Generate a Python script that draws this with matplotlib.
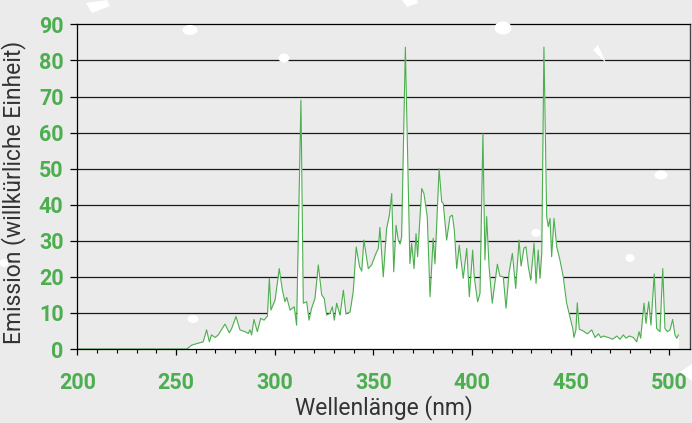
import matplotlib
matplotlib.use("Agg")
import matplotlib.pyplot as plt
from matplotlib.patches import Ellipse, Polygon
import numpy as np

wavelength = [200, 250, 255.5, 258, 263.8, 265.5, 266.9, 268, 269.8, 271.4, 274.8, 277, 278.2,
              280.4, 282.4, 285, 286.6, 287.5, 288.3, 289.5, 291.2, 292.9, 294.6, 296.3, 297.3,
              298.1, 300.2, 302.3, 303.9, 305.2, 306.1, 307.8, 309.9, 311.1, 313.3, 314.5, 316.2,
              317.4, 318.7, 320.4, 322.1, 323.8, 325.1, 326.3, 328, 329.2, 330.2, 331.4, 333.1,
              334.8, 336.1, 338.2, 339.8, 341.3, 343, 344.1, 345.2, 347.4, 349.1, 351.3, 352.5,
              353.3, 355, 356.7, 358.1, 359.3, 360.3, 361.5, 362.6, 363.5, 364.3, 366.2, 368.5,
              369.4, 370.6, 371.6, 372.4, 374.5, 375.6, 377.3, 378.7, 380.3, 381.2, 383.3, 384.6,
              385.4, 387.1, 388.8, 390, 391, 392.2, 393.5, 395.5, 397.3, 398.6, 400.3, 401.1,
              402.8, 404, 405.5, 406.5, 407.4, 408.6, 410.2, 412.8, 414.1, 415.8, 417.2, 418.7,
              420.4, 422.1, 423.8, 424.8, 426.3, 427.3, 428.5, 429.7, 431.4, 432.4, 433.5, 434.4,
              435.3, 436.4, 437.8, 438.6, 439.5, 440.3, 441.5, 442.9, 444.5, 446.2, 447.9, 449.6,
              451, 451.6, 452.6, 453.3, 454.3, 456.3, 458.4, 460.6, 462.3, 464, 465.2, 466.5,
              469, 471.2, 473.3, 474.9, 476.6, 478, 479.6, 481.7, 483.4, 484.6, 485.4, 487.1,
              488.1, 489.5, 490.6, 492.3, 493.5, 495.2, 496.6, 497.7, 498.9, 500.3, 501.6, 502.8,
              503.7, 504.5]
emission = [0, 0, 0, 1.1, 2.0, 5.3, 2.0, 3.9, 3.2, 3.9, 6.9, 4.5, 5.7,
            9.0, 5.3, 4.8, 4.3, 5.3, 3.9, 8.2, 4.8, 8.5, 8.0, 9.1, 19.6,
            10.8, 13.6, 22.3, 16.3, 13.1, 14.3, 10.8, 11.7, 6.6, 69.0, 12.7, 13.1,
            8.0, 11.3, 14.0, 23.3, 15.0, 14.0, 9.4, 9.9, 11.7, 8.0, 12.7, 9.4,
            16.3, 9.7, 10.3, 16.0, 28.3, 22.8, 21.6, 30.2, 22.3, 23.3, 26.5, 27.9,
            33.7, 20.0, 33.4, 37.1, 43.1, 21.4, 34.3, 30.2, 29.1, 31.1, 83.7, 23.7,
            29.3, 22.3, 32.0, 25.6, 44.5, 43.1, 36.7, 14.5, 30.7, 23.6, 50.0, 40.8,
            40.4, 30.2, 36.7, 37.1, 33.0, 22.3, 28.8, 19.6, 27.9, 14.5, 27.4, 20.0,
            13.1, 15.4, 59.7, 24.7, 36.7, 22.8, 12.7, 23.5, 20.2, 20.0, 11.3, 21.0,
            26.5, 16.8, 30.2, 23.0, 28.0, 28.3, 22.8, 19.1, 29.3, 18.2, 27.4, 19.6,
            26.5, 83.7, 36.7, 33.9, 36.2, 25.6, 36.2, 28.3, 24.7, 20.0, 12.7, 8.8,
            5.7, 3.2, 5.3, 12.8, 5.5, 5.0, 4.2, 5.3, 3.2, 4.2, 3.2, 3.6,
            3.2, 2.7, 3.6, 2.7, 3.9, 3.0, 3.6, 3.2, 2.0, 4.8, 3.0, 12.7,
            7.1, 13.1, 6.6, 20.8, 5.7, 4.8, 22.3, 5.7, 4.8, 5.3, 8.2, 3.9,
            3.0, 3.9]

x_ticks = [200, 250, 300, 350, 400, 450, 500]
y_ticks = [0, 10, 20, 30, 40, 50, 60, 70, 80, 90]

BG = "#ebebeb"
GREEN = "#4cae4f"
FONT = ["Roboto", "DejaVu Sans"]

W, H = 692, 423
fig = plt.figure(figsize=(W / 100, H / 100), dpi=100, facecolor=BG)
ax = fig.add_axes([77.3 / W, 1 - 349 / H, (690 - 77.3) / W, (349 - 24.4) / H])
ax.set_facecolor("none")

ax.fill_between(wavelength, emission, 0, color="white", lw=0, zorder=2)
ax.plot(wavelength, emission, color=GREEN, lw=0.8, zorder=3)

ax.set_xlim(200, 510.4)
ax.set_ylim(0, 90)

for v in y_ticks[1:-1]:
    ax.axhline(v, color="#1a1a1a", lw=0.9, zorder=1)

ax.set_xticks(x_ticks)
ax.set_xticks(np.arange(210, 510, 10), minor=True)
ax.set_yticks(y_ticks)
ax.tick_params(axis="x", which="major", length=4.5, width=0.9, color="black", pad=12,
               labelsize=15.5, labelcolor=GREEN)
ax.tick_params(axis="x", which="minor", length=3, width=0.8, color="black")
ax.tick_params(axis="y", which="major", length=5, width=0.9, color="black", pad=5,
               labelsize=15.5, labelcolor=GREEN)
for lab in ax.get_xticklabels() + ax.get_yticklabels():
    lab.set_fontfamily(FONT)
    lab.set_fontweight("bold")

for s in ["left", "top", "bottom"]:
    ax.spines[s].set_color("black")
    ax.spines[s].set_linewidth(0.9)
ax.spines["right"].set_color("#444444")
ax.spines["right"].set_linewidth(1.0)
for s in ax.spines.values():
    s.set_zorder(4)

fig.text(384 / W, 1 - 408 / H, "Wellenlänge (nm)", ha="center", va="center",
         fontsize=16.5, color="#333333", family=FONT)
fig.text(14 / W, 1 - 192 / H, "Emission (willkürliche Einheit)", ha="center", va="center",
         rotation=90, fontsize=16.5, color="#333333", family=FONT)

# decorative white confetti
def fx(x):
    return x / W

def fy(y):
    return 1 - y / H

polys = [
    [(86, 3), (107, 0), (110, 6), (92, 13)],
    [(402, 0), (417, 0), (418, 3), (407, 7)],
    [(593, 50), (598, 45), (606, 63)],
    [(680, 372), (692, 364), (692, 381)],
]
for p in polys:
    fig.patches.append(Polygon([(fx(a), fy(b)) for a, b in p], closed=True,
                               transform=fig.transFigure, facecolor="white",
                               edgecolor="none", zorder=5))
ovals = [(190, 30, 15, 10), (284, 58, 11, 9), (503, 28, 17, 13), (661, 175, 13, 9),
         (4, 263, 9, 8), (193, 319, 11, 8), (536, 233, 9, 8), (630, 258, 9, 8)]
for cx, cy, w, h in ovals:
    fig.patches.append(Ellipse((fx(cx), fy(cy)), w / W, h / H, transform=fig.transFigure,
                               facecolor="white", edgecolor="none", zorder=5))

fig.savefig("out.png", dpi=100, facecolor=BG)
